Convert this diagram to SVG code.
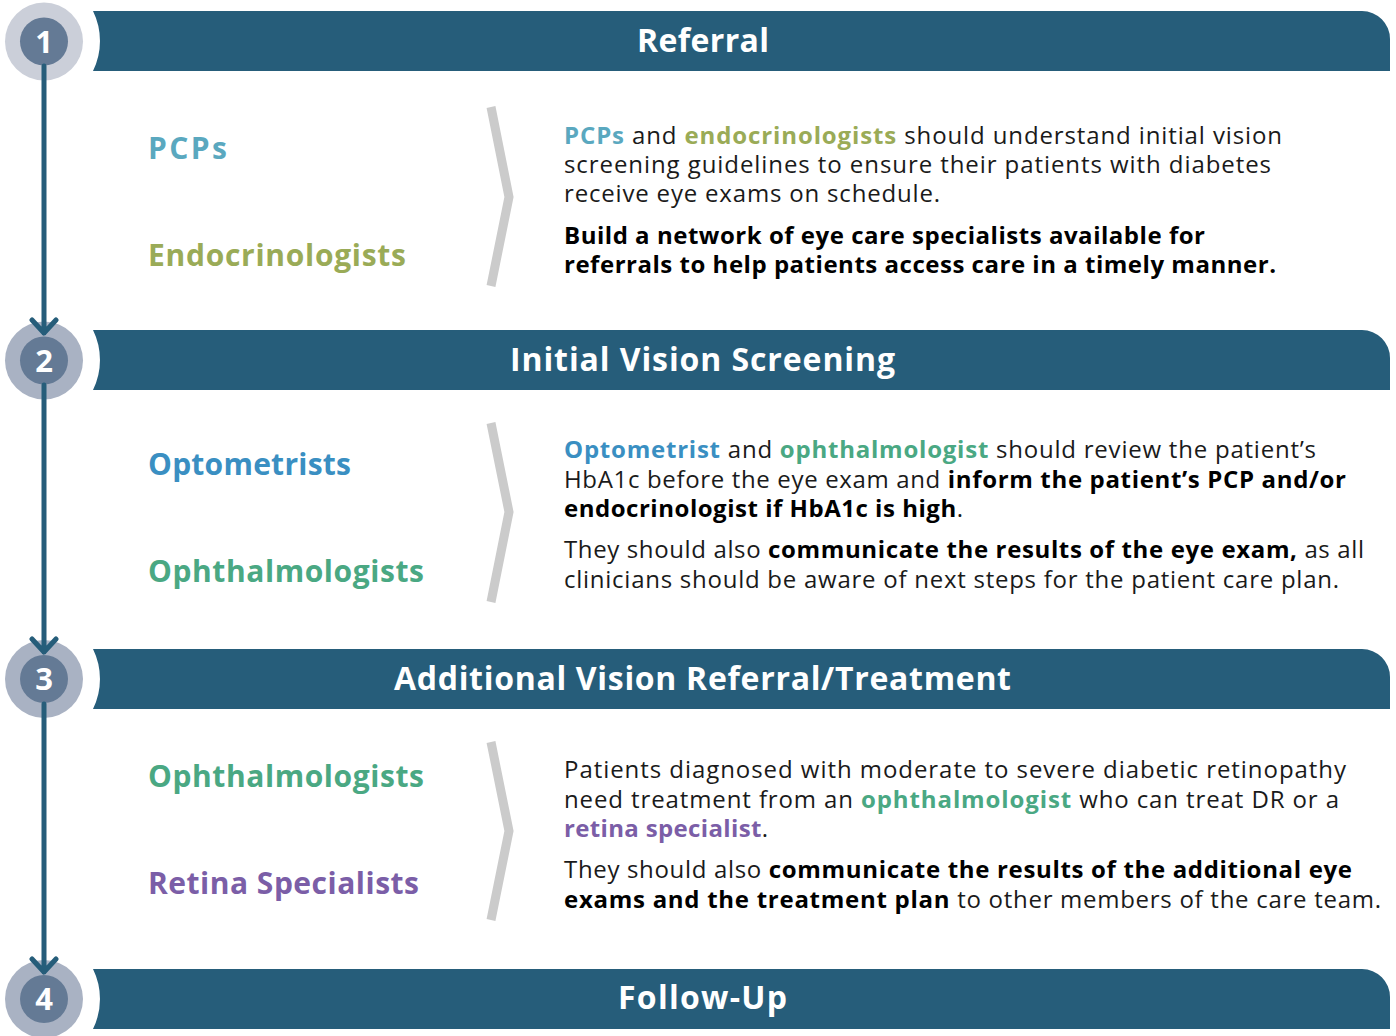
<svg xmlns="http://www.w3.org/2000/svg" width="1396" height="1036" viewBox="0 0 1396 1036">
<defs>
<style>
.hdr{fill:#265d7a}
.ring1{fill:#cbcfd9}
.ring{fill:#a9b2c3}
.core{fill:#647a95}
.num{font-family:"Open Sans","Liberation Sans",sans-serif;font-weight:700;font-size:31px;fill:#fff;text-anchor:middle}
.title{font-family:"Open Sans","Liberation Sans",sans-serif;font-weight:700;font-size:32px;fill:#fff;text-anchor:middle}
.lab{font-family:"Open Sans","Liberation Sans",sans-serif;font-weight:700;font-size:30px}
.body{font-family:"Open Sans","Liberation Sans",sans-serif;font-weight:400;font-size:24px;fill:#1a1a1a}
.b{font-weight:700;fill:#000}
.chev{fill:none;stroke:#cbcbcb;stroke-width:9}
.conn{fill:none;stroke:#265d7a;stroke-width:5;stroke-linecap:round;stroke-linejoin:round}
.pcp{fill:#5aa8bf}
.endo{fill:#9aab57}
.opt{fill:#3a8fc2}
.oph{fill:#4aa883}
.ret{fill:#7b5ea7}
</style>
</defs>
<rect width="1396" height="1036" fill="#fff"/>

<g id="step1">
<circle class="ring1" cx="44" cy="41.5" r="39"/>
<circle class="core" cx="44" cy="41.5" r="24"/>
<text class="num" x="44" y="52.5">1</text>
</g>
<g id="step2">
<circle class="ring" cx="44" cy="360.5" r="39"/>
<circle class="core" cx="44" cy="360.5" r="24"/>
<text class="num" x="44" y="371.5">2</text>
</g>
<g id="step3">
<circle class="ring" cx="44" cy="679" r="39"/>
<circle class="core" cx="44" cy="679" r="24"/>
<text class="num" x="44" y="690">3</text>
</g>
<g id="step4">
<circle class="ring" cx="44" cy="999" r="39"/>
<circle class="core" cx="44" cy="999" r="24"/>
<text class="num" x="44" y="1010">4</text>
</g>

<g id="connectors">
<path class="conn" d="M44,66 V333 M32,320 L44,333 L56,320"/>
<path class="conn" d="M44,385 V652 M32,639 L44,652 L56,639"/>
<path class="conn" d="M44,704 V972 M32,959 L44,972 L56,959"/>
</g>

<g id="header-referral">
<path class="hdr" d="M93,11 H1362 A28,28 0 0 1 1390,39 V71 H93 A68,68 0 0 0 93,11 Z"/>
<text class="title" x="703" y="52" textLength="132">Referral</text>
</g>
<g id="header-screening">
<path class="hdr" d="M93,330 H1362 A28,28 0 0 1 1390,358 V390 H93 A68,68 0 0 0 93,330 Z"/>
<text class="title" x="702.5" y="371" textLength="385">Initial Vision Screening</text>
</g>
<g id="header-treatment">
<path class="hdr" d="M93,649 H1362 A28,28 0 0 1 1390,677 V709 H93 A68,68 0 0 0 93,649 Z"/>
<text class="title" x="702.5" y="690" textLength="617">Additional Vision Referral/Treatment</text>
</g>
<g id="header-followup">
<path class="hdr" d="M93,969 H1362 A28,28 0 0 1 1390,997 V1029 H93 A68,68 0 0 0 93,969 Z"/>
<text class="title" x="702.5" y="1009" textLength="169">Follow-Up</text>
</g>

<g id="section1">
<text class="lab pcp" x="148" y="159" textLength="79">PCPs</text>
<text class="lab endo" x="148" y="266" textLength="258">Endocrinologists</text>
<polyline class="chev" points="491,107 509,197 491,286"/>
<text class="body" x="564" y="144" textLength="718"><tspan class="b pcp">PCPs</tspan> and <tspan class="b endo">endocrinologists</tspan> should understand initial vision</text>
<text class="body" x="564" y="173" textLength="707">screening guidelines to ensure their patients with diabetes</text>
<text class="body" x="564" y="202" textLength="376">receive eye exams on schedule.</text>
<text class="body b" x="564" y="244" textLength="641">Build a network of eye care specialists available for</text>
<text class="body b" x="564" y="273" textLength="712">referrals to help patients access care in a timely manner.</text>
</g>

<g id="section2">
<text class="lab opt" x="148" y="475" textLength="203">Optometrists</text>
<text class="lab oph" x="148" y="582" textLength="276">Ophthalmologists</text>
<polyline class="chev" points="491,423 509,512 491,602"/>
<text class="body" x="564" y="458" textLength="752"><tspan class="b opt">Optometrist</tspan> and <tspan class="b oph">ophthalmologist</tspan> should review the patient’s</text>
<text class="body" x="564" y="488" textLength="782">HbA1c before the eye exam and <tspan class="b">inform the patient’s PCP and/or</tspan></text>
<text class="body" x="564" y="517" textLength="399"><tspan class="b">endocrinologist if HbA1c is high</tspan>.</text>
<text class="body" x="564" y="558" textLength="800">They should also <tspan class="b">communicate the results of the eye exam,</tspan> as all</text>
<text class="body" x="564" y="588" textLength="775">clinicians should be aware of next steps for the patient care plan.</text>
</g>

<g id="section3">
<text class="lab oph" x="148" y="787" textLength="276">Ophthalmologists</text>
<text class="lab ret" x="148" y="894" textLength="271">Retina Specialists</text>
<polyline class="chev" points="491,742 509,831 491,920"/>
<text class="body" x="564" y="778" textLength="782">Patients diagnosed with moderate to severe diabetic retinopathy</text>
<text class="body" x="564" y="808" textLength="775">need treatment from an <tspan class="b oph">ophthalmologist</tspan> who can treat DR or a</text>
<text class="body" x="564" y="837" textLength="204"><tspan class="b ret">retina specialist</tspan>.</text>
<text class="body" x="564" y="878" textLength="788">They should also <tspan class="b">communicate the results of the additional eye</tspan></text>
<text class="body" x="564" y="908" textLength="817"><tspan class="b">exams and the treatment plan</tspan> to other members of the care team.</text>
</g>
</svg>
